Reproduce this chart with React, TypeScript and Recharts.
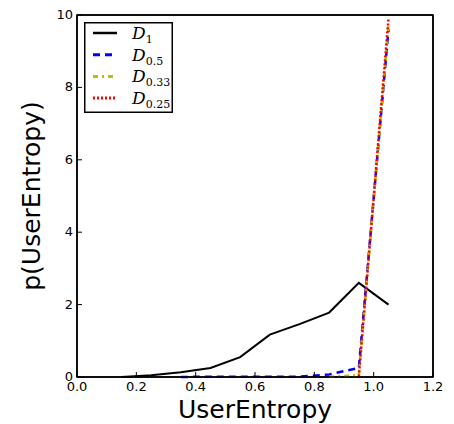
import { LineChart, Line, XAxis, YAxis, Legend, Label, ReferenceArea } from 'recharts';

// bin centers of the entropy histogram
const binCenters = [0.15, 0.25, 0.35, 0.45, 0.55, 0.65, 0.75, 0.85, 0.95, 1.05];

// density estimates per divergence order
const d1Values = [0.0, 0.05, 0.13, 0.25, 0.55, 1.17, 1.46, 1.78, 2.6, 2.0];
const d05Values = [null, null, 0.0, 0.01, 0.01, 0.01, 0.01, 0.07, 0.25, 9.6];
const d033Values = [null, null, null, null, null, null, null, 0.01, 0.05, 9.75];
const d025Values = [null, null, null, null, null, null, null, null, 0.02, 9.9];

const xTicks = [0, 0.2, 0.4, 0.6, 0.8, 1.0, 1.2];
const yTicks = [0, 2, 4, 6, 8, 10];

const toPoints = (vals: (number | null)[]) =>
  binCenters
    .map((x, i) => ({ x, y: vals[i] }))
    .filter((p) => p.y !== null);

const series = [
  { key: 'd1', sub: '1', data: toPoints(d1Values), color: '#000000', dash: undefined, width: 2 },
  { key: 'd05', sub: '0.5', data: toPoints(d05Values), color: '#0000ff', dash: '7 5', width: 2.5 },
  { key: 'd033', sub: '0.33', data: toPoints(d033Values), color: '#bfbf00', dash: '5 4 2 4', width: 2.5 },
  { key: 'd025', sub: '0.25', data: toPoints(d025Values), color: '#ff0000', dash: '2 2', width: 2.5 },
];

const FONT = '"DejaVu Sans", sans-serif';
const TICK_LEN = 5;

function BottomTick({ x, y, payload }: any) {
  return (
    <g>
      <line x1={x} y1={y} x2={x} y2={y - TICK_LEN} stroke="#000" strokeWidth={1} />
      <text x={x} y={y + 14} textAnchor="middle" fontSize={13} fontFamily={FONT} fill="#000">
        {Number(payload.value).toFixed(1)}
      </text>
    </g>
  );
}

function TopTick({ x, y }: any) {
  return <line x1={x} y1={y} x2={x} y2={y + TICK_LEN} stroke="#000" strokeWidth={1} />;
}

function LeftTick({ x, y, payload }: any) {
  return (
    <g>
      <line x1={x} y1={y} x2={x + TICK_LEN} y2={y} stroke="#000" strokeWidth={1} />
      <text x={x - 4} y={y + 4} textAnchor="end" fontSize={13} fontFamily={FONT} fill="#000">
        {payload.value}
      </text>
    </g>
  );
}

function RightTick({ x, y }: any) {
  return <line x1={x} y1={y} x2={x - TICK_LEN} y2={y} stroke="#000" strokeWidth={1} />;
}

function LegendBox() {
  return (
    <svg width={89} height={91} style={{ display: 'block' }}>
      <rect x={0.75} y={0.75} width={87.5} height={89.5} fill="#fff" stroke="#000" strokeWidth={1.5} />
      {series.map((s, i) => {
        const cy = 11 + i * 21.7;
        return (
          <g key={s.key}>
            <line x1={9} y1={cy} x2={33} y2={cy} stroke={s.color} strokeWidth={s.width + 0.5} strokeDasharray={s.dash} />
            <text x={48} y={cy + 6} fontFamily='"DejaVu Serif", serif' fill="#000">
              <tspan fontSize={17} fontStyle="italic">D</tspan>
              <tspan fontSize={11} dy={4}>{s.sub}</tspan>
            </text>
          </g>
        );
      })}
    </svg>
  );
}

export default function App() {
  return (
    <div style={{ width: 454, height: 424, background: '#fff', position: 'relative' }}>
      <style>{'body{margin:0}'}</style>
      <LineChart width={454} height={424} margin={{ top: 14, right: 20, bottom: 0, left: 0 }}>
        <XAxis
          dataKey="x"
          type="number"
          domain={[0, 1.2]}
          ticks={xTicks}
          allowDuplicatedCategory={false}
          height={47}
          axisLine={{ stroke: '#000', strokeWidth: 1.5 }}
          tickLine={false}
          tickSize={0}
          tickMargin={0}
          tick={<BottomTick />}
          interval={0}
        >
          <Label
            content={() => (
              <text x={255} y={418} textAnchor="middle" fontSize={25} fontFamily={FONT} fill="#000">
                UserEntropy
              </text>
            )}
          />
        </XAxis>
        <XAxis
          xAxisId="top"
          orientation="top"
          dataKey="x"
          type="number"
          domain={[0, 1.2]}
          ticks={xTicks}
          height={1}
          axisLine={{ stroke: '#000', strokeWidth: 1.5 }}
          tickLine={false}
          tickSize={0}
          tickMargin={0}
          tick={<TopTick />}
          interval={0}
        />
        <YAxis
          type="number"
          domain={[0, 10]}
          ticks={yTicks}
          width={77}
          axisLine={{ stroke: '#000', strokeWidth: 1.5 }}
          tickLine={false}
          tickSize={0}
          tickMargin={0}
          tick={<LeftTick />}
          interval={0}
        >
          <Label
            content={() => (
              <text
                x={40}
                y={196}
                textAnchor="middle"
                fontSize={25}
                fontFamily={FONT}
                fill="#000"
                transform="rotate(-90 40 196)"
              >
                p(UserEntropy)
              </text>
            )}
          />
        </YAxis>
        <YAxis
          yAxisId="right"
          orientation="right"
          type="number"
          domain={[0, 10]}
          ticks={yTicks}
          width={1}
          axisLine={{ stroke: '#000', strokeWidth: 1.5 }}
          tickLine={false}
          tickSize={0}
          tickMargin={0}
          tick={<RightTick />}
          interval={0}
        />
        {/* plot frame */}
        <ReferenceArea x1={0} x2={1.2} y1={0} y2={10} fill="none" stroke="#000" strokeWidth={1.5} ifOverflow="visible" />
        {series.map((s) => (
          <Line
            key={s.key}
            data={s.data}
            dataKey="y"
            type="linear"
            stroke={s.color}
            strokeWidth={s.width}
            strokeDasharray={s.dash}
            dot={false}
            isAnimationActive={false}
          />
        ))}
        <Legend
          layout="vertical"
          align="center"
          verticalAlign="middle"
          content={() => <LegendBox />}
          wrapperStyle={{ position: 'absolute', left: 84, top: 22, width: 89, height: 91 }}
        />
      </LineChart>
    </div>
  );
}
